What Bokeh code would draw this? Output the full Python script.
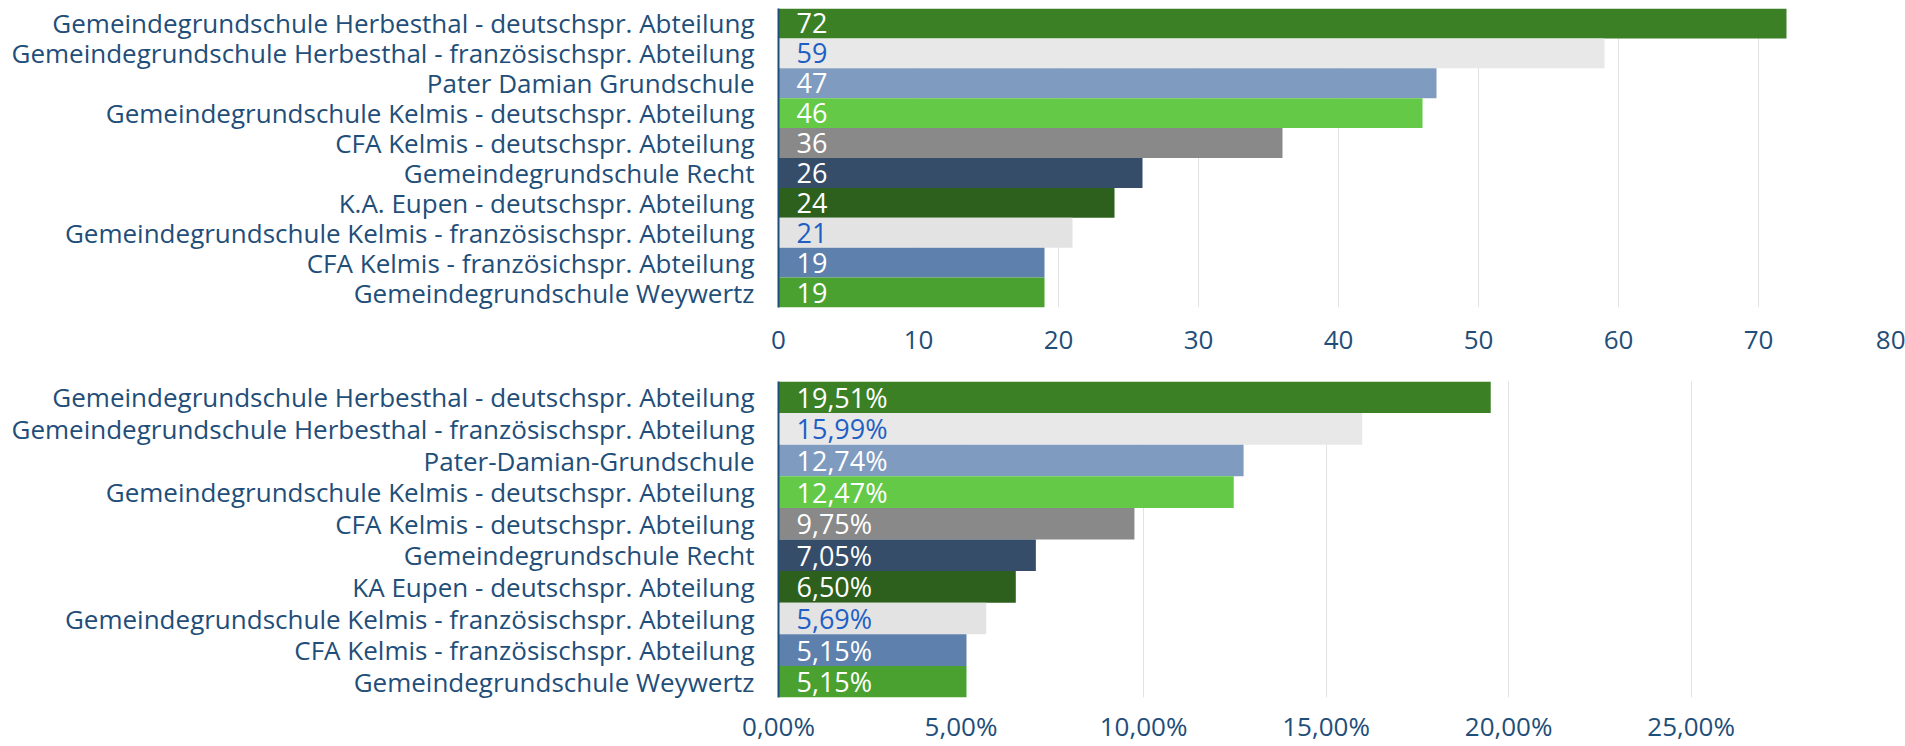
from bokeh.plotting import figure
from bokeh.layouts import column
from bokeh.models import Range1d, FactorRange, FixedTicker, ColumnDataSource
from bokeh.core.properties import value
from bokeh.embed import file_html
from bokeh.resources import INLINE

# ---------------- data ----------------
schools_top = [
    "Gemeindegrundschule Herbesthal - deutschspr. Abteilung",
    "Gemeindegrundschule Herbesthal - französischspr. Abteilung",
    "Pater Damian Grundschule",
    "Gemeindegrundschule Kelmis - deutschspr. Abteilung",
    "CFA Kelmis - deutschspr. Abteilung",
    "Gemeindegrundschule Recht",
    "K.A. Eupen - deutschspr. Abteilung",
    "Gemeindegrundschule Kelmis - französischspr. Abteilung",
    "CFA Kelmis - französichspr. Abteilung",
    "Gemeindegrundschule Weywertz",
]
counts = [72, 59, 47, 46, 36, 26, 24, 21, 19, 19]

schools_bottom = [
    "Gemeindegrundschule Herbesthal - deutschspr. Abteilung",
    "Gemeindegrundschule Herbesthal - französischspr. Abteilung",
    "Pater-Damian-Grundschule",
    "Gemeindegrundschule Kelmis - deutschspr. Abteilung",
    "CFA Kelmis - deutschspr. Abteilung",
    "Gemeindegrundschule Recht",
    "KA Eupen - deutschspr. Abteilung",
    "Gemeindegrundschule Kelmis - französischspr. Abteilung",
    "CFA Kelmis - französischspr. Abteilung",
    "Gemeindegrundschule Weywertz",
]
shares = [19.51, 15.99, 12.74, 12.47, 9.75, 7.05, 6.50, 5.69, 5.15, 5.15]

bar_colors = ["#3B8025", "#E8E8E8", "#7F9BBF", "#63C946", "#898989",
              "#364D6A", "#2D5F1D", "#E3E3E3", "#5E80AD", "#4AA12F"]
value_label_colors = ["#FFFFFF", "#1F5FC4", "#FFFFFF", "#FFFFFF", "#FFFFFF",
                      "#FFFFFF", "#FFFFFF", "#1F5FC4", "#FFFFFF", "#FFFFFF"]

top_ticks = [0, 10, 20, 30, 40, 50, 60, 70, 80]
top_tick_labels = ["0", "10", "20", "30", "40", "50", "60", "70", "80"]
bottom_ticks = [0, 5, 10, 15, 20, 25]
bottom_tick_labels = ["0,00%", "5,00%", "10,00%", "15,00%", "20,00%", "25,00%"]

TXT = "#1F4E79"
FONT = "Open Sans"


def make_chart(cats, vals, labels, ticks, tick_labels, x_end, width, height,
               b_left, b_top, b_bottom, b_right, standoff):
    src = ColumnDataSource(dict(cat=cats, val=vals, lab=labels,
                                color=bar_colors, tcolor=value_label_colors))
    p = figure(width=width, height=height, output_backend="svg",
               toolbar_location=None, tools="",
               y_range=FactorRange(*list(reversed(cats))),
               x_range=Range1d(0, x_end),
               min_border_left=b_left, min_border_top=b_top,
               min_border_bottom=b_bottom, min_border_right=b_right)
    p.outline_line_color = None
    p.background_fill_color = "white"
    p.border_fill_color = "white"

    p.hbar(y="cat", left=0, right="val", height=1.0, color="color",
           line_color=None, source=src)
    p.text(x=0, y="cat", text="lab", source=src, x_offset=18,
           text_align="left", text_baseline="middle",
           text_font=value(FONT), text_font_size="27px", text_color="tcolor")

    p.ygrid.grid_line_color = None
    p.xgrid.grid_line_color = "#E2E2E2"
    p.xgrid.grid_line_width = 1
    p.xaxis.ticker = FixedTicker(ticks=ticks)
    p.xaxis.major_label_overrides = {t: l for t, l in zip(ticks, tick_labels)}
    p.xaxis.axis_line_color = None
    p.xaxis.major_tick_line_color = None
    p.xaxis.minor_tick_line_color = None
    p.xaxis.major_tick_out = 0
    p.xaxis.major_tick_in = 0
    p.xaxis.major_label_standoff = standoff
    p.xaxis.major_label_text_font = FONT
    p.xaxis.major_label_text_font_size = "26px"
    p.xaxis.major_label_text_color = TXT

    p.yaxis.axis_line_color = TXT
    p.yaxis.axis_line_width = 2
    p.yaxis.major_tick_line_color = None
    p.yaxis.major_tick_out = 0
    p.yaxis.major_tick_in = 0
    p.yaxis.major_label_standoff = 24
    p.yaxis.major_label_text_font = FONT
    p.yaxis.major_label_text_font_size = "26px"
    p.yaxis.major_label_text_color = TXT
    return p


top_labels = [str(v) for v in counts]
bottom_labels = [f"{v:.2f}".replace(".", ",") + "%" for v in shares]

p1 = make_chart(schools_top, counts, top_labels, top_ticks, top_tick_labels,
                80, 1905, 367, 775, 8, 60, 7, 23)
p2 = make_chart(schools_bottom, shares, bottom_labels, bottom_ticks,
                bottom_tick_labels, 30.68, 1905, 379, 778, 14, 49, 7, 10)

layout = column(p1, p2, spacing=0)
open("out.html", "w").write(file_html(layout, INLINE))
